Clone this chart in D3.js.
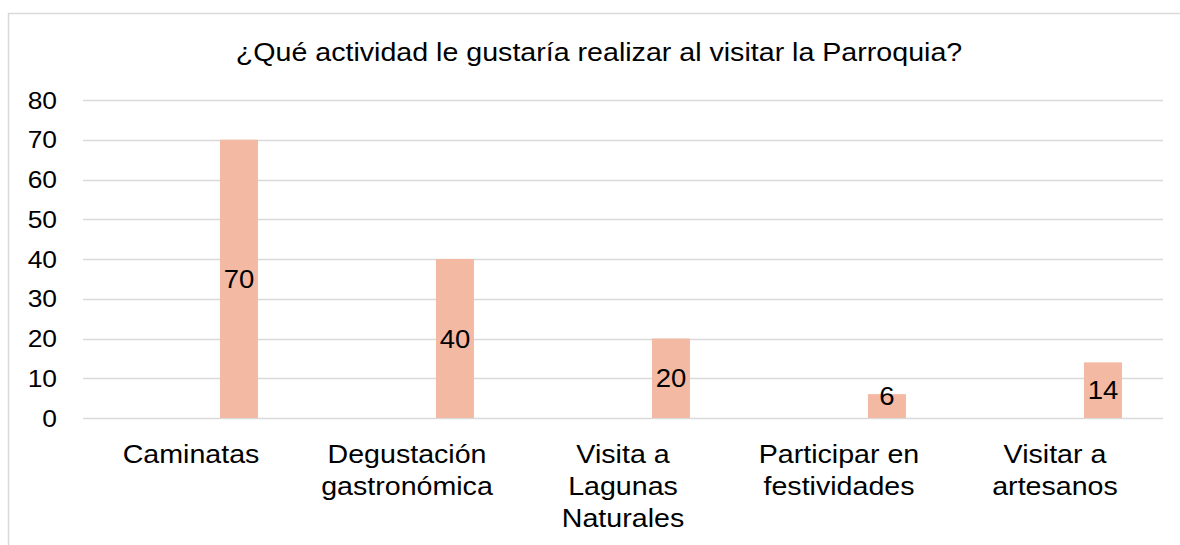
<!DOCTYPE html>
<html>
<head>
<meta charset="utf-8">
<script src="https://cdn.jsdelivr.net/npm/d3@7"></script>
<style>
  html, body { margin: 0; padding: 0; background: #fff; }
  svg text { font-family: "Liberation Sans", Arial, sans-serif; fill: #000; }
</style>
</head>
<body>
<div id="chart"></div>
<script>
const categories = ['Caminatas', 'Degustación gastronómica', 'Visita a Lagunas Naturales', 'Participar en festividades', 'Visitar a artesanos'];
const categoryLines = [
    ['Caminatas'],
    ['Degustación', 'gastronómica'],
    ['Visita a', 'Lagunas', 'Naturales'],
    ['Participar en', 'festividades'],
    ['Visitar a', 'artesanos']
];
const values = [70, 40, 20, 6, 14];
const yTicks = [0, 10, 20, 30, 40, 50, 60, 70, 80];
const title = '¿Qué actividad le gustaría realizar al visitar la Parroquia?';

const width = 1180, height = 545;
const margin = { top: 100, right: 17, bottom: 127, left: 83 };
const stretch = 1.1; // text in the reference is a little wider than plain Arial

const svg = d3.select('#chart').append('svg')
    .attr('width', width)
    .attr('height', height);

// chart frame
svg.append('path')
    .attr('d', `M8.5,${height} V13.5 H${width}`)
    .attr('fill', 'none')
    .attr('stroke', '#d9d9d9')
    .attr('stroke-width', 1.5);

const place = (px, py) => `translate(${px},${py}) scale(${stretch},1)`;

svg.append('text')
    .attr('transform', place(599, 61))
    .attr('text-anchor', 'middle')
    .style('font-size', '26px')
    .text(title);

const x = d3.scaleBand()
    .domain(categories)
    .range([margin.left, width - margin.right])
    .padding(0);

const y = d3.scaleLinear()
    .domain([0, 80])
    .range([height - margin.bottom, margin.top]);

// gridlines
svg.append('g')
    .selectAll('line')
    .data(yTicks)
    .join('line')
    .attr('x1', margin.left)
    .attr('x2', width - margin.right)
    .attr('y1', d => Math.round(y(d)) + 0.5)
    .attr('y2', d => Math.round(y(d)) + 0.5)
    .attr('stroke', '#d9d9d9')
    .attr('stroke-width', 1.5);

// y tick labels
svg.append('g')
    .selectAll('text')
    .data(yTicks)
    .join('text')
    .attr('transform', d => place(57, y(d)))
    .attr('dy', '0.36em')
    .attr('text-anchor', 'end')
    .style('font-size', '24px')
    .text(d => d);

// bars sit in the right part of each category band (empty first series)
const barOffset = x.bandwidth() * 0.634;
const barWidth = x.bandwidth() * 0.176;

svg.append('g')
    .selectAll('rect')
    .data(values)
    .join('rect')
    .attr('x', (d, i) => x(categories[i]) + barOffset)
    .attr('y', d => y(d))
    .attr('width', barWidth)
    .attr('height', d => y(0) - y(d))
    .attr('fill', '#f4b9a3');

// data labels
svg.append('g')
    .selectAll('text')
    .data(values)
    .join('text')
    .attr('transform', (d, i) => place(
        x(categories[i]) + barOffset + barWidth / 2,
        Math.min((y(d) + y(0)) / 2, y(0) - 22)))
    .attr('dy', '0.36em')
    .attr('text-anchor', 'middle')
    .style('font-size', '25px')
    .text(d => d);

// category labels
svg.append('g')
    .selectAll('text')
    .data(categoryLines)
    .join('text')
    .attr('transform', (d, i) => place(x(categories[i]) + x.bandwidth() / 2, 463))
    .attr('text-anchor', 'middle')
    .style('font-size', '26px')
    .each(function(lines) {
        const t = d3.select(this);
        lines.forEach((line, j) => {
            t.append('tspan')
                .attr('x', 0)
                .attr('y', j * 32)
                .text(line);
        });
    });
</script>
</body>
</html>
